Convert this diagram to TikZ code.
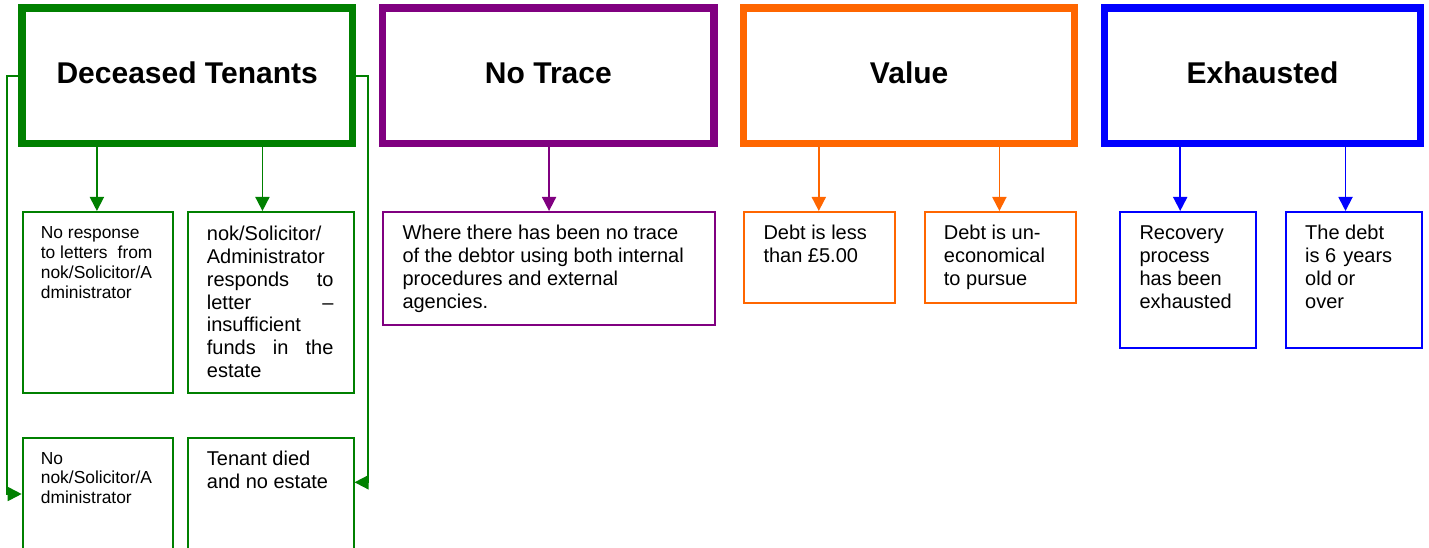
\documentclass[tikz,border=0pt]{standalone}
\usepackage{fontspec}
\setmainfont{Liberation Sans}
\usetikzlibrary{arrows.meta,calc}

\definecolor{dtgreen}{HTML}{008000}
\definecolor{ntpurple}{HTML}{800080}
\definecolor{vaorange}{HTML}{FF6600}
\definecolor{exblue}{HTML}{0000FF}

\tikzset{
  head/.style={draw=#1, line width=7.3, minimum height=135.2, inner sep=0,
    text height=22pt, text depth=6.4pt, font=\fontsize{30}{34}\selectfont\bfseries},
  leaf/.style={draw=#1, line width=1.8, anchor=north west, inner sep=0},
  link/.style={draw=#1, line width=1.8, -{Triangle[length=14pt,width=14pt]}},
  txt/.style={anchor=base west, inner sep=0, font=\fontsize{20}{22.8}\selectfont},
  smalltxt/.style={txt, font=\fontsize{17.4}{19.8}\selectfont}
}

\begin{document}
\begin{tikzpicture}[x=1pt, y=-1pt]
    \useasboundingbox (0,0) rectangle (1429,548);
    \clip (0,0) rectangle (1429,548);

    % Write-off headings
    \node[head=dtgreen, minimum width=330.4] (dt) at (187.2,75.75) {Deceased Tenants};
    \node[head=ntpurple, minimum width=331.4] (nt) at (548.35,75.75) {No Trace};
    \node[head=vaorange, minimum width=331] (va) at (909.15,75.75) {Value};
    \node[head=exblue, minimum width=315.7] (ex) at (1262.5,75.75) {Exhausted};

    % Reasons under each heading
    \node[leaf=dtgreen, minimum width=150.6, minimum height=181] (dt1) at (21.7,211) {};
    \node[leaf=dtgreen, minimum width=165.7, minimum height=181] (dt2) at (187,211) {};
    \node[leaf=dtgreen, minimum width=150.6, minimum height=130] (dt3) at (21.7,437) {};
    \node[leaf=dtgreen, minimum width=165.7, minimum height=130] (dt4) at (187,437) {};
    \node[leaf=ntpurple, minimum width=331.7, minimum height=113.3] (nt1) at (382.3,211) {};
    \node[leaf=vaorange, minimum width=151, minimum height=91] (va1) at (743.3,211) {};
    \node[leaf=vaorange, minimum width=151, minimum height=91] (va2) at (924,211) {};
    \node[leaf=exblue, minimum width=136, minimum height=135.7] (ex1) at (1119.3,211) {};
    \node[leaf=exblue, minimum width=136, minimum height=135.7] (ex2) at (1285,211) {};

    \node[smalltxt] (dt1t) at ([shift={(19,27.8)}]dt1.north west)
        {\parbox[t]{111.6pt}{No response\\to letters\hfill from\\nok/Solicitor/A\\dministrator}};
    \node[txt] (dt2t) at ([shift={(19.7,29.8)}]dt2.north west)
        {\parbox[t]{126.6pt}{nok/Solicitor/\\Administrator\\responds\hfill to\\letter\hfill --\\insufficient\\funds\hfill in\hfill the\\estate}};
    \node[smalltxt] (dt3t) at ([shift={(19,27)}]dt3.north west)
        {\parbox[t]{111.6pt}{No\\nok/Solicitor/A\\dministrator}};
    \node[txt] (dt4t) at ([shift={(19.7,28.7)}]dt4.north west)
        {\parbox[t]{140pt}{Tenant died\\and no estate}};
    \node[txt] (nt1t) at ([shift={(20,29)}]nt1.north west)
        {\parbox[t]{300pt}{Where there has been no trace\\of the debtor using both internal\\procedures and external\\agencies.}};
    \node[txt] (va1t) at ([shift={(20,29)}]va1.north west)
        {\parbox[t]{125pt}{Debt is less\\than £5.00}};
    \node[txt] (va2t) at ([shift={(19.7,29)}]va2.north west)
        {\parbox[t]{125pt}{Debt is un-\\economical\\to pursue}};
    \node[txt] (ex1t) at ([shift={(20,29)}]ex1.north west)
        {\parbox[t]{110pt}{Recovery\\process\\has been\\exhausted}};
    \node[txt] (ex2t) at ([shift={(20,29)}]ex2.north west)
        {\parbox[t]{87pt}{The debt\\is 6\hfill years\\old or\\over}};

    % Arrows down from the headings
    \foreach \h/\l/\s/\c in {dt/dt1/-1/dtgreen, dt/dt2/-8.3/dtgreen, nt/nt1/0/ntpurple,
        va/va1/-0.9/vaorange, va/va2/-1/vaorange, ex/ex1/-8/exblue, ex/ex2/-8.4/exblue}
        \draw[link=\c] ($(\h.south -| \l.north)+(\s,0)$) -- ($(\l.north)+(\s,0)$);

    % Side routes to the lower boxes
    \coordinate (dt3in) at ([yshift=-57]dt3.north west);
    \coordinate (dt4in) at ([yshift=-45.3]dt4.north east);
    \draw[link=dtgreen] (dt.west) -- ++(-11.6,0) |- (dt3in);
    \draw[link=dtgreen] (dt.east) -- ++(12,0) |- (dt4in);
\end{tikzpicture}
\end{document}
